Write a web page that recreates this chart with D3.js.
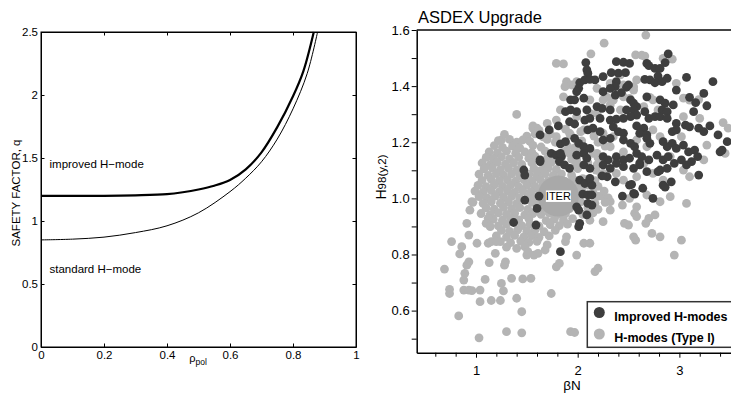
<!DOCTYPE html>
<html><head><meta charset="utf-8">
<script src="https://cdn.jsdelivr.net/npm/d3@7"></script>
<style>body{margin:0;background:#fff}svg{display:block;font-family:"Liberation Sans",Arial,Helvetica,sans-serif}</style>
</head><body><svg id="c" width="731" height="394"></svg>
<script>
// ---------- Left panel data ----------
const rhoImproved = [0, 0.1, 0.2, 0.3, 0.4, 0.45, 0.5, 0.55, 0.6, 0.65, 0.7, 0.75, 0.8, 0.833, 0.866];
const qImproved   = [1.2, 1.2, 1.2, 1.204, 1.213, 1.228, 1.25, 1.28, 1.325, 1.41, 1.545, 1.745, 1.99, 2.19, 2.5];
const rhoStandard = [0, 0.1, 0.2, 0.3, 0.4, 0.5, 0.6, 0.65, 0.7, 0.75, 0.8, 0.845, 0.878];
const qStandard   = [0.85, 0.856, 0.872, 0.908, 0.962, 1.065, 1.233, 1.34, 1.47, 1.65, 1.89, 2.17, 2.5];
const rhoTicks = [0, 0.2, 0.4, 0.6, 0.8, 1];
const qTicks = [0, 0.5, 1, 1.5, 2, 2.5];

// ---------- Right panel data ----------
const hTicks = [0.6, 0.8, 1.0, 1.2, 1.4, 1.6];
const hMinorTicks = [0.5, 0.7, 0.9, 1.1, 1.3, 1.5];
const betaTicks = [1, 2, 3];
const betaMinorTicks = [0.6, 0.8, 1.2, 1.4, 1.6, 1.8, 2.2, 2.4, 2.6, 2.8, 3.2, 3.4];
const iterPoint = [1.81, 1.008];

const improvedModes = [
[2.89,1.515],[2.38,1.487],[2.45,1.485],[2.51,1.481],[2.68,1.481],[2.70,1.473],[2.08,1.484],[2.76,1.463],[2.81,1.463],[2.86,1.484],[2.09,1.458],[2.10,1.446],[2.25,1.434],[2.33,1.448],[2.40,1.446],[2.47,1.448],[2.79,1.436],[3.07,1.431],[3.33,1.416],
[2.02,1.412],[2.07,1.422],[2.12,1.424],[2.17,1.422],[2.38,1.416],[2.37,1.398],[2.50,1.404],[2.48,1.396],[2.66,1.424],[2.71,1.422],[2.76,1.412],[2.83,1.416],[2.88,1.428],[2.97,1.386],[2.01,1.392],[1.99,1.380],
[1.93,1.351],[1.97,1.351],[2.06,1.357],[2.25,1.380],[2.32,1.392],[2.37,1.368],[2.43,1.377],[2.52,1.351],[2.55,1.339],[2.58,1.327],[2.68,1.362],[2.81,1.351],[2.86,1.339],[2.94,1.333],[3.10,1.360],[3.16,1.341],[3.24,1.374],[3.27,1.33],
[1.88,1.309],[1.93,1.315],[1.99,1.309],[2.09,1.315],[2.19,1.327],[2.24,1.321],[2.32,1.315],[2.48,1.315],[2.55,1.315],[2.58,1.297],[2.66,1.309],[2.83,1.315],[2.88,1.309],[3.14,1.309],
[1.92,1.273],[1.97,1.265],[2.07,1.279],[2.12,1.285],[2.22,1.285],[2.32,1.279],[2.38,1.282],[2.45,1.285],[2.52,1.291],[2.70,1.285],[2.76,1.291],[2.81,1.291],[2.88,1.285],[2.58,1.258],[2.65,1.250],[2.97,1.267],[3.06,1.261],[3.10,1.255],[3.19,1.250],[3.24,1.238],[3.30,1.258],
[1.81,1.258],[1.72,1.244],[1.63,1.226],[2.10,1.244],[2.15,1.250],[2.22,1.238],[2.35,1.255],[2.40,1.238],[2.45,1.232],[2.61,1.232],[2.68,1.226],[2.93,1.238],[2.97,1.244],[3.38,1.226],[3.47,1.202],[3.40,1.166],[3.42,1.172],
[1.83,1.194],[1.88,1.202],[1.97,1.214],[2.01,1.196],[2.06,1.184],[2.12,1.178],[2.25,1.208],[2.32,1.214],[2.45,1.208],[2.52,1.196],[2.56,1.184],[2.68,1.214],[2.71,1.196],[2.84,1.202],[2.88,1.184],[2.93,1.196],[2.97,1.178],[3.04,1.190],[3.09,1.166],[3.15,1.172],[3.18,1.149],
[1.74,1.160],[1.79,1.154],[1.84,1.149],[1.99,1.154],[2.06,1.160],[2.09,1.143],[2.25,1.149],[2.30,1.137],[2.38,1.149],[2.45,1.137],[2.51,1.143],[2.58,1.160],[2.63,1.149],[2.70,1.137],[2.78,1.154],[2.84,1.137],[2.89,1.149],[2.95,1.125],[3.02,1.137],[3.07,1.119],[3.12,1.131],[3.19,1.083],
[1.47,1.101],[1.48,1.083],[1.63,1.131],[1.82,1.131],[1.87,1.119],[1.92,1.107],[2.06,1.119],[2.12,1.107],[2.25,1.119],[2.32,1.107],[2.38,1.125],[2.45,1.113],[2.55,1.107],[2.61,1.119],[2.68,1.095],[2.81,1.101],[2.88,1.107],
[2.02,1.065],[2.07,1.053],[2.14,1.047],[2.12,1.071],[2.29,1.077],[2.37,1.059],[2.51,1.047],[2.55,1.018],[2.64,1.036],[2.84,1.047],[2.92,1.059],
[1.48,0.994],[1.60,0.964],[1.62,1.008],[1.37,0.914],[1.59,0.905],[1.99,0.970],[2.01,0.958],[2.10,0.982],[2.14,0.976],[2.09,0.941],[2.01,0.899],[2.02,0.911],[2.05,1.015],[2.10,1.012],[2.14,1.012],[2.44,1.008],[2.56,1.015],[2.74,1.000],[1.83,0.810],
[1.63,1.137],[1.83,1.16],[2.24,1.08],[2.79,1.095],[2.61,1.126],[2.53,1.05],[2.86,1.04]
];

const typeIModes = [
// upper / mixed region
[2.67,1.582],[2.26,1.553],[2.13,1.515],[1.79,1.481],[1.86,1.479],[2.57,1.511],[2.63,1.51],[2.66,1.507],[2.84,1.499],[2.93,1.496],[1.89,1.416],[1.94,1.404],[1.40,1.299],[1.56,1.258],[1.60,1.250],[1.25,1.208],[1.37,1.196],[1.40,1.184],
[3.43,1.270],[3.48,1.250],[3.27,1.190],[3.45,1.160],[3.04,1.357],[3.10,1.350],[3.19,1.352],[2.97,1.41],[2.45,1.404],[2.55,1.398],[2.42,1.44],[2.71,1.36],[2.79,1.315],[2.35,1.35],[2.29,1.36],[2.51,1.356],
[1.875,1.398],[1.99,1.416],[2.19,1.392],[2.32,1.410],[1.86,1.362],[2.12,1.351],[2.25,1.351],[1.83,1.315],[2.12,1.303],[1.79,1.279],[1.99,1.291],[2.19,1.303],[2.06,1.244],[1.92,1.232],[1.79,1.220],[2.25,1.232],[2.35,1.220],
[2.45,1.362],[2.55,1.386],[2.58,1.422],[2.32,1.333],[2.42,1.315],[2.65,1.327],[2.74,1.351],[2.74,1.244],[2.81,1.220],[2.58,1.208],[2.68,1.184],[2.45,1.166],[2.32,1.184],[2.19,1.160],[1.99,1.137],[1.92,1.160],
[2.19,1.119],[2.25,1.089],[2.38,1.089],[2.45,1.065],[2.58,1.077],[2.74,1.089],[2.84,1.065],[2.65,1.125],[3.04,1.101],[3.10,1.077],[2.91,1.149],[3.24,1.137],[3.02,1.220],[3.20,1.285],[3.04,1.291],[1.70,1.267],[1.73,1.23],
[2.25,1.006],[2.32,0.988],[2.51,1.0],[2.58,0.97],[2.68,1.012],[2.81,0.988],[2.91,1.006],[3.07,0.982],
// dense cloud
[1.56,1.25],[1.62,1.242],[1.88,1.247],[2.03,1.238],
[1.28,1.228],[1.50,1.222],[1.58,1.23],[1.66,1.219],[1.93,1.226],[2.16,1.222],
[1.22,1.206],[1.33,1.21],[1.40,1.2],[1.46,1.208],[1.53,1.203],[1.70,1.21],[1.78,1.2],[2.04,1.205],[2.20,1.2],
[1.18,1.188],[1.26,1.182],[1.36,1.186],[1.43,1.18],[1.56,1.189],[1.64,1.183],[1.90,1.187],[1.97,1.18],[2.27,1.186],
[1.13,1.166],[1.21,1.162],[1.30,1.168],[1.39,1.161],[1.48,1.166],[1.55,1.163],[1.68,1.168],[1.86,1.164],[2.02,1.17],[2.15,1.16],
[1.10,1.146],[1.17,1.142],[1.25,1.148],[1.33,1.141],[1.42,1.146],[1.52,1.143],[1.58,1.15],[1.70,1.142],[1.77,1.147],[1.94,1.14],[2.20,1.145],
[1.06,1.126],[1.14,1.12],[1.21,1.128],[1.29,1.122],[1.37,1.127],[1.45,1.121],[1.55,1.126],[1.67,1.123],[1.74,1.128],[1.98,1.12],[2.10,1.127],
[1.08,1.105],[1.16,1.108],[1.24,1.102],[1.32,1.107],[1.40,1.101],[1.57,1.106],[1.64,1.1],[1.71,1.108],[1.79,1.103],[2.00,1.106],[2.18,1.101],
[1.03,1.086],[1.12,1.082],[1.20,1.088],[1.27,1.083],[1.35,1.087],[1.43,1.081],[1.52,1.086],[1.60,1.083],[1.68,1.088],[1.76,1.082],[1.84,1.087],[1.94,1.083],[2.23,1.086],
[1.06,1.064],[1.15,1.068],[1.23,1.062],[1.31,1.066],[1.39,1.061],[1.47,1.067],[1.55,1.063],[1.63,1.068],[1.71,1.062],[1.80,1.066],[1.88,1.06],[1.96,1.067],[2.05,1.07],[2.17,1.063],
[1.02,1.046],[1.10,1.042],[1.18,1.048],[1.26,1.043],[1.34,1.047],[1.42,1.041],[1.50,1.046],[1.58,1.043],[1.66,1.048],[1.74,1.042],[1.90,1.046],[2.00,1.041],[2.10,1.047],[2.20,1.043],
[0.99,1.026],[1.07,1.022],[1.15,1.028],[1.23,1.023],[1.31,1.027],[1.38,1.021],[1.46,1.026],[1.54,1.023],[1.62,1.028],[1.96,1.022],[2.04,1.027],[2.15,1.022],[2.26,1.026],
[1.03,1.006],[1.11,1.002],[1.19,1.008],[1.27,1.003],[1.35,1.007],[1.43,1.001],[1.51,1.006],[1.58,1.003],[1.99,1.004],[2.20,1.008],[2.30,1.002],
[0.97,0.986],[1.07,0.982],[1.15,0.988],[1.24,0.983],[1.32,0.987],[1.40,0.981],[1.55,0.986],[1.62,0.983],[2.03,0.987],[2.17,0.982],[2.27,0.986],
[1.10,0.966],[1.18,0.962],[1.27,0.968],[1.35,0.963],[1.43,0.967],[1.51,0.961],[1.67,0.966],[1.75,0.962],[1.83,0.968],[1.92,0.963],[2.10,0.967],[2.20,0.961],
[1.05,0.946],[1.14,0.942],[1.22,0.948],[1.30,0.943],[1.38,0.947],[1.48,0.941],[1.56,0.946],[1.64,0.943],[1.72,0.948],[1.80,0.942],[1.88,0.946],[2.05,0.943],[2.15,0.948],
[1.17,0.926],[1.26,0.922],[1.34,0.928],[1.42,0.923],[1.52,0.927],[1.69,0.921],[1.77,0.926],[1.86,0.923],[1.95,0.928],[2.12,0.922],
[1.13,0.906],[1.22,0.902],[1.30,0.908],[1.45,0.903],[1.53,0.907],[1.62,0.901],[1.73,0.906],[1.82,0.903],[1.90,0.908],
[1.25,0.886],[1.33,0.882],[1.41,0.888],[1.50,0.883],[1.58,0.887],[1.67,0.881],[1.78,0.886],
[1.20,0.866],[1.30,0.862],[1.38,0.868],[1.47,0.863],[1.55,0.867],[1.62,0.861],[1.72,0.866],
[1.24,0.846],[1.34,0.842],[1.44,0.848],[1.52,0.843],[1.60,0.847],
[1.30,0.826],[1.40,0.822],[1.48,0.828],
// scattered lower points
[0.69,0.748],[0.74,0.676],[0.74,0.661],[0.83,0.581],[0.76,0.846],[0.84,0.802],[0.86,0.828],[0.91,0.911],[0.93,0.869],[0.93,0.774],[0.91,0.762],[0.89,0.733],[0.88,0.709],[0.88,0.673],[0.93,0.673],[0.96,0.671],[0.94,0.958],[0.96,0.988],
[1.01,0.840],[1.04,0.632],[1.04,0.673],[1.03,0.503],[1.09,0.711],[1.12,0.929],[1.10,0.911],[1.14,0.899],[1.12,0.840],[1.15,0.846],[1.13,0.771],[1.15,0.636],[1.19,0.804],[1.20,0.846],[1.24,0.636],[1.25,0.697],[1.27,0.670],[1.29,0.774],[1.28,0.762],[1.30,0.525],
[1.35,0.715],[1.40,0.644],[1.46,0.713],[1.45,0.596],[1.45,0.521],[1.54,0.715],[1.50,0.798],[1.51,0.810],[1.57,0.798],[1.61,0.804],[1.70,0.834],[1.68,0.816],[1.74,0.661],[1.79,0.756],[1.82,0.768],[1.88,0.846],[1.89,0.863],[1.93,0.525],[1.97,0.522],[1.99,0.798],
[2.06,0.840],[2.12,0.840],[2.17,0.739],[2.20,0.751],[2.25,0.917],[2.32,0.958],[2.46,0.911],[2.50,0.905],[2.44,0.976],[2.56,0.947],[2.58,0.935],[2.55,0.863],[2.57,0.851],[2.67,0.911],[2.70,0.929],[2.76,0.941],[2.73,0.875],[2.81,0.863],[2.95,0.798],[3.02,0.851]
];

// ---------- Drawing ----------
const svg = d3.select("#c");
svg.append("rect").attr("width", 731).attr("height", 394).attr("fill", "#fff");

// Left panel
const xL = d3.scaleLinear().domain([0, 1]).range([41, 356]);
const yL = d3.scaleLinear().domain([0, 2.5]).range([347, 32]);
const L = svg.append("g").attr("font-size", 11.5);

function styleAxis(g) {
  g.select(".domain").attr("stroke", "#000");
  g.selectAll(".tick line").attr("stroke", "#000");
  g.selectAll(".tick text").attr("fill", "#000").attr("font-family", null).attr("font-size", null);
  g.attr("font-family", null).attr("font-size", null);
}
L.append("g").attr("transform", "translate(0,347)")
  .call(d3.axisBottom(xL).tickValues(rhoTicks).tickSize(-3.5).tickSizeOuter(0).tickPadding(4).tickFormat(d3.format("~g")))
  .call(styleAxis);
L.append("g").attr("transform", "translate(41,0)")
  .call(d3.axisLeft(yL).tickValues(qTicks).tickSize(-3.5).tickSizeOuter(0).tickPadding(3).tickFormat(d3.format("~g")))
  .call(styleAxis);
L.append("g").attr("transform", "translate(356,0)")
  .call(d3.axisRight(yL).tickValues(qTicks).tickSize(-3.5).tickSizeOuter(0).tickFormat(""))
  .call(styleAxis);
L.append("g").attr("transform", "translate(0,32)")
  .call(d3.axisTop(xL).tickValues(rhoTicks).tickSize(-3.5).tickSizeOuter(0).tickFormat(""))
  .call(styleAxis);
L.append("rect").attr("x", xL(0)).attr("y", yL(2.5)).attr("width", xL(1) - xL(0)).attr("height", yL(0) - yL(2.5))
  .attr("fill", "none").attr("stroke", "#000").attr("stroke-width", 1);

const lineL = d3.line().x(d => xL(d[0])).y(d => yL(d[1])).curve(d3.curveCatmullRom.alpha(0.5));
L.append("path").datum(rhoStandard.map((r, i) => [r, qStandard[i]])).attr("d", lineL)
  .attr("fill", "none").attr("stroke", "#000").attr("stroke-width", 1);
L.append("path").datum(rhoImproved.map((r, i) => [r, qImproved[i]])).attr("d", lineL)
  .attr("fill", "none").attr("stroke", "#000").attr("stroke-width", 2.2);

L.append("text").attr("x", 49.5).attr("y", 168).text("improved H\u2212mode");
L.append("text").attr("x", 49.5).attr("y", 273).text("standard H\u2212mode");
L.append("text").attr("transform", "translate(19.5,193) rotate(-90)").attr("text-anchor", "middle")
  .text("SAFETY FACTOR, q");
const rl = L.append("text").attr("x", 198).attr("y", 362).attr("text-anchor", "middle");
rl.append("tspan").attr("font-size", 11).text("\u03C1");
rl.append("tspan").attr("font-size", 8.5).attr("dy", 3).text("pol");

// Right panel
const xR = d3.scaleLinear().domain([0.417, 3.6]).range([416.7, 740.4]);
const yR = d3.scaleLinear().domain([0.45, 1.6]).range([352.7, 30]);
const R = svg.append("g").attr("font-size", 13);

R.append("text").attr("x", 418).attr("y", 22.5).attr("font-size", 16.5).text("ASDEX Upgrade");
R.append("line").attr("x1", xR(0.417)).attr("x2", 740).attr("y1", yR(1.6)).attr("y2", yR(1.6))
  .attr("stroke", "#444").attr("stroke-width", 2);

const pts = R.append("g");
pts.selectAll("circle.t1").data(typeIModes).join("circle").attr("class", "t1")
  .attr("cx", d => xR(d[0])).attr("cy", d => yR(d[1])).attr("r", 4.4).attr("fill", "#b4b4b4");
pts.append("circle").attr("cx", xR(iterPoint[0])).attr("cy", yR(iterPoint[1])).attr("r", 20.5).attr("fill", "#a9a9a9");
pts.selectAll("circle.imp").data(improvedModes).join("circle").attr("class", "imp")
  .attr("cx", d => xR(d[0])).attr("cy", d => yR(d[1])).attr("r", 4.4).attr("fill", "#3e3e3e");

R.append("rect").attr("x", xR(iterPoint[0]) - 12.5).attr("y", yR(iterPoint[1]) - 5.7).attr("width", 25).attr("height", 11.5).attr("fill", "#fff");
R.append("text").attr("x", xR(iterPoint[0])).attr("y", yR(iterPoint[1]) + 4.2).attr("text-anchor", "middle")
  .attr("font-size", 11).text("ITER");

R.append("g").attr("transform", `translate(${xR(0.417)},0)`)
  .call(d3.axisLeft(yR).tickValues(hTicks.concat(hMinorTicks)).tickSize(5).tickSizeOuter(0).tickPadding(2)
    .tickFormat(d => hTicks.includes(d) ? d.toFixed(1) : ""))
  .call(styleAxis).select(".domain").attr("stroke-width", 1.5);
R.append("g").attr("transform", `translate(0,${yR(0.45)})`)
  .call(d3.axisBottom(xR).tickValues(betaMinorTicks).tickSize(4).tickSizeOuter(0).tickFormat(""))
  .call(styleAxis).select(".domain").attr("stroke-width", 1.5);
R.append("g").attr("transform", `translate(0,${yR(0.45)})`)
  .call(d3.axisBottom(xR).tickValues(betaTicks).tickSize(5).tickSizeOuter(0).tickPadding(8).tickFormat(d3.format("d")))
  .call(styleAxis).select(".domain").remove();

const yl = R.append("text").attr("transform", `translate(386,177) rotate(-90)`).attr("text-anchor", "middle");
yl.append("tspan").attr("font-size", 14).text("H");
yl.append("tspan").attr("font-size", 11.5).text("98(y,2)");
R.append("text").attr("x", 572).attr("y", 390).attr("text-anchor", "middle").attr("font-size", 13.5).text("\u03B2N");

// Legend
const lg = R.append("g");
lg.append("rect").attr("x", 587.3).attr("y", 301.7).attr("width", 200).attr("height", 45.6)
  .attr("fill", "#fff").attr("stroke", "#333").attr("stroke-width", 1.5);
const legendItems = [["Improved H-modes", "#3e3e3e"], ["H-modes (Type I)", "#b4b4b4"]];
legendItems.forEach((it, i) => {
  lg.append("circle").attr("cx", 599.3).attr("cy", 312.5 + i * 21.5).attr("r", 5.5).attr("fill", it[1]);
  lg.append("text").attr("x", 614.3).attr("y", 320.7 + i * 21.5).attr("font-weight", "bold").attr("font-size", 12.5).text(it[0]);
});
</script></body></html>
